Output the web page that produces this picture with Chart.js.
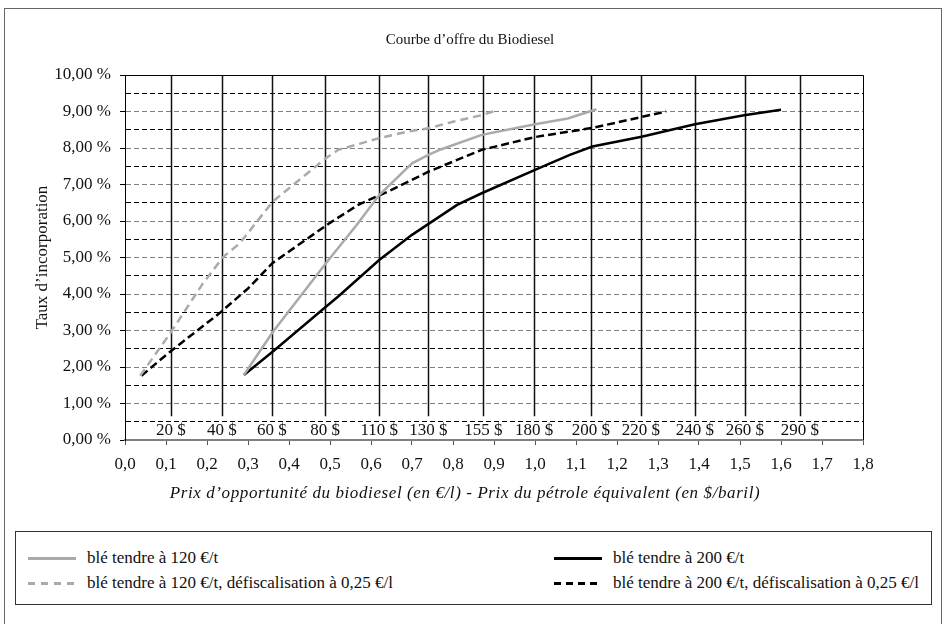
<!DOCTYPE html>
<html lang="fr">
<head>
<meta charset="utf-8">
<title>Courbe d'offre du Biodiesel</title>
<script src="https://cdn.jsdelivr.net/npm/chart.js@4.4.1/dist/chart.umd.min.js"></script>
<style>
    body { margin: 0; background: #fff; }
    .serif { font-family: "Liberation Serif", "Times New Roman", "DejaVu Serif", serif; }
    #frame { position: absolute; left: 4px; top: 8px; width: 936px; height: 700px; border: 1px solid #666; }
    #wrap { position: absolute; left: 0; top: 0; width: 946px; height: 510px; }
    #chartTitle { position: absolute; left: 0; width: 940px; top: 31px; text-align: center; font-size: 15px; color: #111; }
    #xTitle { position: absolute; left: 0; width: 930px; top: 483px; text-align: center; font-style: italic; font-size: 17px; letter-spacing: 0.6px; color: #111; }
    #legend { position: absolute; left: 15px; top: 531px; width: 915px; height: 72px; border: 1px solid #333; background: #fff; }
    .item { position: absolute; height: 20px; font-size: 17px; color: #111; line-height: 20px; white-space: nowrap; }
    .sample { position: absolute; left: -59px; top: 9px; width: 48px; height: 3px; }
</style>
</head>
<body>
<div id="frame"></div>
<div id="wrap"><canvas id="supplyChart" width="946" height="510"></canvas></div>
<div id="chartTitle" class="serif">Courbe d’offre du Biodiesel</div>
<div id="xTitle" class="serif">Prix d’opportunité du biodiesel (en €/l) - Prix du pétrole équivalent (en $/baril)</div>
<div id="legend" class="serif"></div>

<script>
// series names
const seriesNames = [
    'blé tendre à 120 €/t',
    'blé tendre à 120 €/t, défiscalisation à 0,25 €/l',
    'blé tendre à 200 €/t',
    'blé tendre à 200 €/t, défiscalisation à 0,25 €/l'
];

// x = prix d'opportunité (€/l), y = taux d'incorporation (%)
const wheat120X = [0.29, 0.36, 0.49, 0.565, 0.62, 0.70, 0.74, 0.77, 0.87, 1.0, 1.08, 1.15];
const wheat120Y = [1.78, 2.95, 4.84, 5.89, 6.71, 7.58, 7.81, 7.96, 8.36, 8.65, 8.81, 9.06];

const wheat120TaxX = [0.037, 0.11, 0.19, 0.24, 0.28, 0.36, 0.49, 0.52, 0.62, 0.69, 0.74, 0.80, 0.87, 0.91];
const wheat120TaxY = [1.76, 2.92, 4.29, 5.02, 5.39, 6.53, 7.72, 7.95, 8.27, 8.45, 8.54, 8.72, 8.9, 9.04];

const wheat200X = [0.29, 0.36, 0.49, 0.52, 0.62, 0.70, 0.81, 0.87, 1.0, 1.085, 1.14, 1.26, 1.39, 1.51, 1.6];
const wheat200Y = [1.78, 2.42, 3.65, 3.93, 4.93, 5.62, 6.44, 6.76, 7.4, 7.81, 8.04, 8.31, 8.65, 8.9, 9.05];

const wheat200TaxX = [0.04, 0.11, 0.23, 0.30, 0.36, 0.50, 0.57, 0.65, 0.74, 0.87, 1.0, 1.14, 1.32];
const wheat200TaxY = [1.76, 2.42, 3.47, 4.15, 4.85, 5.95, 6.45, 6.85, 7.35, 7.95, 8.3, 8.55, 9.0];

// équivalent pétrole ($/baril) et position sur l'axe €/l
const oilLabels = ['20 $', '40 $', '60 $', '80 $', '110 $', '130 $', '155 $', '180 $', '200 $', '220 $', '240 $', '260 $', '290 $'];
const oilPos = [0.112, 0.236, 0.358, 0.488, 0.62, 0.74, 0.874, 0.998, 1.136, 1.258, 1.39, 1.512, 1.646];

const styles = [
    { color: '#aaaaaa', dash: [], width: 2.5 },
    { color: '#aaaaaa', dash: [8, 5], width: 2.5 },
    { color: '#000000', dash: [], width: 2.5 },
    { color: '#000000', dash: [8, 4], width: 2.5 }
];

const FONT = '"Liberation Serif", "Times New Roman", "DejaVu Serif", serif';

function toPoints(xs, ys) {
    return xs.map((x, i) => ({ x: x, y: ys[i] }));
}

function fmtPct(v) {
    return v.toFixed(2).replace('.', ',') + ' %';
}

// vertical oil-price lines + their labels
const oilPlugin = {
    id: 'oilLines',
    beforeDatasetsDraw(chart) {
        const { ctx, chartArea, scales } = chart;
        const yEnd = scales.y.getPixelForValue(0.65);
        const yLab = scales.y.getPixelForValue(0.28);
        ctx.save();
        ctx.strokeStyle = '#111';
        ctx.lineWidth = 1.5;
        oilPos.forEach(p => {
            const x = Math.round(scales.x.getPixelForValue(p)) + 0.5;
            ctx.beginPath();
            ctx.moveTo(x, chartArea.top);
            ctx.lineTo(x, yEnd);
            ctx.stroke();
        });
        ctx.font = '17px ' + FONT;
        ctx.textAlign = 'center';
        ctx.textBaseline = 'middle';
        oilLabels.forEach((lab, i) => {
            const x = scales.x.getPixelForValue(oilPos[i]);
            const w = ctx.measureText(lab).width;
            ctx.fillStyle = '#fff';
            ctx.fillRect(x - w / 2 - 2, yLab - 7, w + 4, 14);
            ctx.fillStyle = '#111';
            ctx.fillText(lab, x, yLab + 1);
        });
        ctx.restore();
    },
    afterDraw(chart) {
        const { ctx, chartArea } = chart;
        ctx.save();
        ctx.strokeStyle = '#000';
        ctx.lineWidth = 1;
        ctx.beginPath();
        ctx.moveTo(chartArea.left, Math.round(chartArea.top) + 0.5);
        ctx.lineTo(Math.round(chartArea.right) + 0.5, Math.round(chartArea.top) + 0.5);
        ctx.lineTo(Math.round(chartArea.right) + 0.5, chartArea.bottom);
        ctx.stroke();
        ctx.restore();
    }
};

function buildLegend() {
    const legend = document.getElementById('legend');
    const pos = [
        { left: 71, top: 16 },
        { left: 71, top: 41 },
        { left: 597, top: 16 },
        { left: 597, top: 41 }
    ];
    seriesNames.forEach((name, i) => {
        const item = document.createElement('div');
        item.className = 'item';
        item.style.left = pos[i].left + 'px';
        item.style.top = pos[i].top + 'px';
        item.textContent = name;
        const s = document.createElement('span');
        s.className = 'sample';
        const st = styles[i];
        if (st.dash.length) {
            s.style.background = `repeating-linear-gradient(90deg, ${st.color} 0 ${st.dash[0] - 1}px, transparent ${st.dash[0] - 1}px ${st.dash[0] + st.dash[1]}px)`;
        } else {
            s.style.background = st.color;
        }
        item.appendChild(s);
        legend.appendChild(item);
    });
}

function drawChart() {
    Chart.defaults.font.family = FONT;
    Chart.defaults.color = '#111';

    const datasets = [
        toPoints(wheat120X, wheat120Y),
        toPoints(wheat120TaxX, wheat120TaxY),
        toPoints(wheat200X, wheat200Y),
        toPoints(wheat200TaxX, wheat200TaxY)
    ].map((data, i) => ({
        label: seriesNames[i],
        data: data,
        showLine: true,
        borderColor: styles[i].color,
        borderDash: styles[i].dash,
        borderWidth: styles[i].width,
        pointRadius: 0,
        tension: 0,
        fill: false
    }));

    new Chart(document.getElementById('supplyChart'), {
        type: 'scatter',
        data: { datasets: datasets },
        options: {
            responsive: false,
            animation: false,
            layout: { padding: { left: 0, right: 83, top: 75, bottom: 0 } },
            plugins: {
                legend: { display: false },
                tooltip: { enabled: false },
                title: { display: false }
            },
            scales: {
                x: {
                    type: 'linear',
                    min: 0,
                    max: 1.8,
                    ticks: {
                        stepSize: 0.1,
                        font: { size: 17 },
                        padding: 9,
                        maxRotation: 0,
                        autoSkip: false,
                        callback: v => v.toFixed(1).replace('.', ',')
                    },
                    grid: { drawOnChartArea: false, tickLength: 5, color: '#555' },
                    border: { color: '#808080', width: 2 },
                    afterFit: scale => { scale.height = 70; }
                },
                y: {
                    min: 0,
                    max: 10,
                    ticks: {
                        stepSize: 0.5,
                        font: { size: 17 },
                        padding: 9,
                        autoSkip: false,
                        callback: v => Number.isInteger(v) ? fmtPct(v) : ''
                    },
                    grid: {
                        lineWidth: 1,
                        tickLength: 5,
                        color: ctx => {
                            const v = ctx.tick ? ctx.tick.value : 0;
                            if (v === 0 || v === 10) return 'rgba(0,0,0,0)';
                            return Number.isInteger(v) ? '#808080' : '#000';
                        },
                        tickColor: ctx => {
                            const v = ctx.tick ? ctx.tick.value : 0;
                            return Number.isInteger(v) ? '#000' : 'rgba(0,0,0,0)';
                        }
                    },
                    border: { color: '#000', width: 1, dash: [5, 3] },
                    title: {
                        display: true,
                        text: 'Taux d’incorporation',
                        font: { size: 17 },
                        color: '#111',
                        padding: { top: 32, bottom: 0 }
                    },
                    afterFit: scale => { scale.width = 125; }
                }
            }
        },
        plugins: [oilPlugin]
    });
}

document.addEventListener('DOMContentLoaded', () => {
    buildLegend();
    drawChart();
});
</script>
</body>
</html>
